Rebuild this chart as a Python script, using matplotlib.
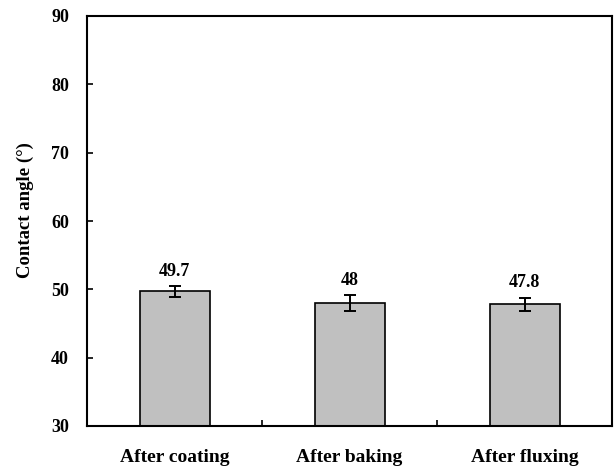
import matplotlib
matplotlib.use("Agg")
import matplotlib.pyplot as plt

categories = ["After coating", "After baking", "After fluxing"]
values = [49.7, 48.0, 47.8]
errors = [0.8, 1.2, 1.0]
value_labels = ["49.7", "48", "47.8"]
yticks = [30, 40, 50, 60, 70, 80, 90]

plt.rcParams["font.family"] = ["Liberation Serif", "DejaVu Serif"]
plt.rcParams["font.weight"] = "bold"

fig = plt.figure(figsize=(6.15, 4.68), dpi=100)
ax = fig.add_axes([87 / 615, 42 / 468, 525 / 615, 410 / 468])

x = list(range(len(categories)))
ax.bar(x, values, width=0.4, color="#c0c0c0", edgecolor="black", linewidth=1.2, zorder=2)
ax.errorbar(x, values, yerr=errors, fmt="none", ecolor="black", elinewidth=1.4,
            capsize=4, capthick=1.4, zorder=3)
for xi, v, e, lab in zip(x, values, errors, value_labels):
    ax.text(xi, v + e + 0.9, lab, ha="center", va="bottom", fontsize=13, fontweight="bold")

ax.set_xlim(-0.5, 2.5)
ax.set_ylim(30, 90)
ax.set_yticks(yticks)
ax.set_yticklabels([str(t) for t in yticks], fontsize=13, fontweight="bold")
ax.set_xticks([0.5, 1.5])
ax.set_xticklabels([])
ax.tick_params(axis="x", direction="in", length=4, width=1.2)
ax.tick_params(axis="y", direction="in", length=4, width=1.2, pad=13)

# category names drawn below the axis, centred under each bar
xform = ax.get_xaxis_transform()
for xi, c in zip(x, categories):
    ax.text(xi, -0.057, c, transform=xform, ha="center", va="top", fontsize=14,
            fontweight="bold")

ax.set_ylabel("Contact angle (°)", fontsize=13.5, fontweight="bold")
ax.yaxis.set_label_coords(-0.10, 0.527)
for s in ax.spines.values():
    s.set_linewidth(1.5)

fig.savefig("out.png", dpi=100)
